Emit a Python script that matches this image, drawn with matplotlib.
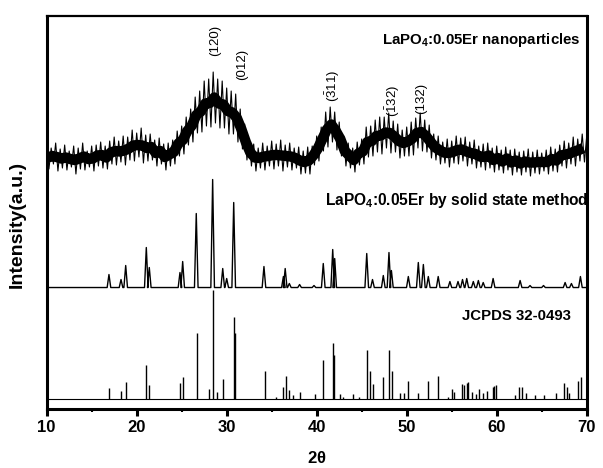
import numpy as np
import matplotlib.pyplot as plt

plt.rcParams['font.family'] = 'Liberation Sans'
plt.rcParams['mathtext.fontset'] = 'custom'
plt.rcParams['mathtext.rm'] = 'Liberation Sans'
plt.rcParams['mathtext.bf'] = 'Liberation Sans:bold'
plt.rcParams['mathtext.default'] = 'regular'

# nanoparticle pattern: top and bottom of the noisy band
# upper edge every 0.5 deg from 10, lower edge every 0.5 deg from 10.25
nano_upper = [263, 261, 266, 260, 264, 258, 263, 261, 266, 258,
              263, 264, 267, 263, 268, 272, 268, 273, 272, 279,
              276, 281, 274, 275, 269, 271, 265, 266, 269, 278,
              283, 292, 300, 312, 318, 328, 330, 337, 330, 328,
              321, 318, 315, 300, 285, 270, 265, 261, 266, 263,
              268, 265, 269, 264, 266, 261, 262, 258, 262, 263,
              273, 282, 297, 302, 297, 287, 273, 266, 261, 267,
              270, 282, 283, 289, 292, 292, 296, 288, 285, 279,
              282, 287, 291, 296, 289, 284, 275, 273, 267, 270,
              268, 273, 271, 272, 267, 269, 263, 265, 266, 261,
              263, 259, 262, 259, 260, 257, 258, 260, 257, 259,
              256, 259, 262, 260, 264, 268, 266, 272, 270, 275,
              273]
nano_lower = [240, 245, 238, 241, 239, 242, 235, 240, 239, 242,
              238, 243, 241, 240, 245, 244, 247, 244, 249, 248,
              252, 246, 248, 249, 243, 245, 239, 243, 245, 253,
              255, 264, 267, 276, 277, 283, 282, 286, 281, 281,
              275, 275, 267, 260, 249, 243, 238, 241, 239, 243,
              240, 243, 238, 242, 239, 241, 235, 236, 235, 244,
              248, 258, 262, 267, 259, 253, 243, 241, 237, 244,
              245, 252, 253, 257, 255, 261, 256, 257, 251, 253,
              253, 254, 261, 258, 257, 251, 249, 245, 246, 242,
              246, 245, 248, 243, 245, 241, 242, 239, 241, 237,
              239, 236, 239, 234, 237, 234, 237, 233, 236, 235,
              238, 235, 238, 237, 243, 241, 245, 243, 248, 247]

# solid state sample: peak positions (2theta) and heights above its baseline
solid_pos = [16.92, 18.26, 18.78, 21.07, 21.4, 24.81, 25.11, 26.62, 28.44, 29.56,
             30.0, 30.78, 34.14, 36.3, 36.5, 36.96, 38.1, 39.7, 40.73, 41.78,
             42.0, 45.56, 46.2, 47.4, 48.03, 48.3, 50.18, 51.29, 51.85, 52.4,
             53.5, 54.8, 55.7, 56.2, 56.67, 57.4, 57.96, 58.5, 59.6, 62.6,
             63.7, 65.2, 67.6, 68.3, 69.3]
solid_height = [13, 8, 22, 40, 20, 15, 26, 74, 108, 19,
                9, 85, 21, 11, 19, 4, 3, 2, 24, 38,
                29, 34, 8, 12, 35, 17, 11, 25, 23, 11,
                11, 6, 6, 8, 9, 6, 7, 5, 9, 7,
                2, 2, 5, 4, 11]

# JCPDS 32-0493 reference lines
jcpds_pos = [16.92, 18.26, 18.78, 21.07, 21.4, 24.81, 25.1, 26.73, 28.07, 28.44,
             28.9, 29.59, 30.84, 30.95, 34.26, 35.5, 36.3, 36.56, 36.96, 37.4,
             38.2, 39.8, 40.74, 41.85, 41.96, 42.6, 42.96, 44.07, 44.7, 45.55,
             45.92, 46.2, 47.4, 48.07, 48.33, 49.26, 49.74, 50.18, 51.3, 52.33,
             53.5, 54.55, 55.07, 55.26, 56.1, 56.4, 56.67, 56.85, 57.2, 57.7,
             58.07, 58.5, 58.9, 59.56, 59.7, 59.92, 62.03, 62.5, 62.78, 63.3,
             64.26, 65.2, 66.6, 67.5, 67.8, 68.07, 69.07, 69.33]
jcpds_height = [10.7, 8, 16.7, 34, 14, 15.7, 22, 66, 10, 109,
                7, 20, 82, 66, 28, 2, 12, 23, 9, 4,
                7, 5, 39, 56, 44, 5, 2, 5, 2, 49,
                28, 15, 22, 49, 28, 6, 6, 18, 6, 18,
                23, 2, 10, 7, 15, 14, 16, 17, 7, 5,
                10, 6, 8, 12, 13, 14, 4, 12, 12, 6,
                4, 4, 6, 16, 12, 6, 18, 22]

solid_base = 121.5
jcpds_base = 10

hkl_labels = [r'(120)', r'(012)', r'$(\bar{3}11)$', r'$(\bar{1}32)$', r'(132)']
hkl_x = [28.7, 31.7, 41.8, 48.5, 51.6]
hkl_y = [369, 345, 323, 308, 311]


def peak_line(pos, height, base, w=0.2):
    xs, ys = [10], [base]
    for p, h in sorted(zip(pos, height)):
        xs += [p - w, p, p + w]
        ys += [base, base + h, base]
    xs.append(70)
    ys.append(base)
    return xs, ys


fig = plt.figure(figsize=(6.03, 4.68), dpi=100)
ax = fig.add_axes([0.0774, 0.126, 0.8956, 0.8398])

# nanoparticles: dense core along the middle of the band, spikes out to the edges
n_lo = len(nano_lower)
mid_x = 10.125 + 0.5 * np.arange(n_lo)
mid_y = (np.array(nano_upper[:n_lo]) + np.array(nano_lower)) / 2
ax.plot(mid_x, mid_y, color='black', lw=7.5, solid_capstyle='butt')

nx, ny = [], []
for i, up in enumerate(nano_upper):
    nx.append(10 + 0.5 * i)
    ny.append(up)
    if i < n_lo:
        nx.append(10.25 + 0.5 * i)
        ny.append(nano_lower[i])
ax.plot(nx, ny, color='black', lw=0.8)

sx, sy = peak_line(solid_pos, solid_height, solid_base)
ax.plot(sx, sy, color='black', lw=1.0)

ax.axhline(jcpds_base, color='black', lw=0.8)
ax.vlines(jcpds_pos, jcpds_base, np.array(jcpds_height) + jcpds_base, color='black', lw=1.0)

for lab, x, y in zip(hkl_labels, hkl_x, hkl_y):
    ax.text(x, y, lab, rotation=90, ha='center', va='center', fontsize=9.5)

ax.text(47.3, 369, r'LaPO$_\mathbf{4}$:0.05Er nanoparticles', fontsize=10.8,
        fontweight='bold', va='center', ha='left')
ax.text(40.9, 209, r'LaPO$_\mathbf{4}$:0.05Er by solid state method', fontsize=11.2,
        fontweight='bold', va='center', ha='left', clip_on=True)
ax.text(56.1, 93, 'JCPDS 32-0493', fontsize=10.8, fontweight='bold', va='center', ha='left')

ax.set_xlim(10, 70)
ax.set_ylim(0, 393)
ax.set_xticks([10, 20, 30, 40, 50, 60, 70])
ax.set_xticks([15, 25, 35, 45, 55, 65], minor=True)
ax.set_yticks([])
ax.tick_params(axis='x', which='major', direction='out', length=5, width=2.2,
               labelsize=12, pad=3)
ax.tick_params(axis='x', which='minor', direction='out', length=2.5, width=1.5)
for t in ax.get_xticklabels():
    t.set_fontweight('bold')

for side in ['left', 'bottom', 'right']:
    ax.spines[side].set_linewidth(2.2)
ax.spines['top'].set_linewidth(1.6)

ax.set_xlabel(r'2$\mathbf{\theta}$', fontsize=12, fontweight='bold', labelpad=11)
ax.set_ylabel('Intensity(a.u.)', fontsize=14, fontweight='bold')
ax.yaxis.set_label_coords(-0.038, 0.47)

fig.savefig('out.png', dpi=100)
